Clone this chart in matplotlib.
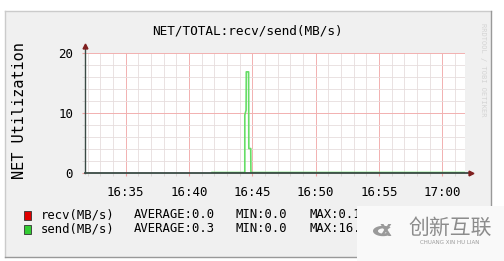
import numpy as np
import pandas as pd
import matplotlib
matplotlib.use('Agg')
import matplotlib.pyplot as plt
import matplotlib.dates as mdates
from matplotlib.patches import Rectangle, Wedge

MONO = 'DejaVu Sans Mono'
plt.rcParams.update({'font.family': MONO, 'font.size': 9})

# data (NET/TOTAL, 30 min window)
day = '2000-01-01 '
window = ['16:31:48', '17:01:48']
send_times = ['16:41:50', '16:44:25', '16:44:25', '16:44:31', '16:44:32',
              '16:44:43', '16:44:44', '16:44:53', '16:44:54', '17:01:48']
send_vals = [0, 0, 9.6, 10.4, 16.8, 16.8, 4.0, 4.0, 0, 0]
recv_times = ['16:41:50', '17:01:48']
recv_vals = [0, 0]
legend_rows = [('recv(MB/s)', '0.0', '0.0', '0.1'),
               ('send(MB/s)', '0.3', '0.0', '16.8')]
yticks = [0, 10, 20]
yminor = [2, 4, 6, 8, 12, 14, 16, 18]

RED, GREEN = '#e00000', '#66dd66'
AXIS, ARROW = '#3a4a44', '#7F1F1F'


def t(s):
    return pd.Timestamp(day + s)


W, H = 504, 261
fig = plt.figure(figsize=(W / 100, H / 100), dpi=100, facecolor='white')

# rrdtool style frame
fig.patches.append(Rectangle((5 / W, 1 - 257 / H), 486 / W, 246 / H, transform=fig.transFigure,
                             facecolor='#f0f0f0', edgecolor='none', zorder=-5))
fig.add_artist(plt.Line2D([5 / W, 5 / W], [1 - 257 / H, 1 - 11 / H], color='#cbcbcb', lw=1, zorder=-4))
fig.add_artist(plt.Line2D([5 / W, 491 / W], [1 - 11 / H, 1 - 11 / H], color='#cbcbcb', lw=1, zorder=-4))
fig.add_artist(plt.Line2D([491 / W, 491 / W], [1 - 257 / H, 1 - 11 / H], color='#999999', lw=1, zorder=-4))
fig.add_artist(plt.Line2D([5 / W, 491 / W], [1 - 257 / H, 1 - 257 / H], color='#999999', lw=1, zorder=-4))

ax = fig.add_axes([85 / W, 1 - 172.5 / H, 380 / W, 119.8 / H])
ax.set_zorder(1)
ax.set_facecolor('white')

st = [t(s) for s in send_times]
rt = [t(s) for s in recv_times]
ax.plot(rt, recv_vals, color=RED, lw=1.0, zorder=3)
ax.plot(st, send_vals, color=GREEN, lw=1.2, zorder=4)

ax.set_xlim(t(window[0]), t(window[1]))
ax.set_ylim(0, 20)
ax.set_yticks(yticks)
ax.set_yticks(yminor, minor=True)
ax.xaxis.set_major_locator(mdates.MinuteLocator(byminute=range(0, 60, 5)))
ax.xaxis.set_minor_locator(mdates.MinuteLocator(byminute=[m for m in range(60) if m % 5]))
ax.xaxis.set_major_formatter(mdates.DateFormatter('%H:%M'))

ax.grid(which='minor', color='#e6dddd', lw=0.6)
ax.grid(which='major', color='#f2b0b0', lw=0.7)
ax.set_axisbelow(True)
for sp in ax.spines.values():
    sp.set_visible(False)
ax.tick_params(which='major', length=2.5, color='#f0a0a0', pad=7, labelsize=9)
ax.tick_params(which='minor', length=2, color='#d8d0d0')
ax.tick_params(axis='y', pad=6)

# axes with arrows
ax.plot([0, 1.013], [0, 0], transform=ax.transAxes, color=AXIS, lw=1.3, clip_on=False, zorder=6)
ax.plot([0, 0], [0, 1.05], transform=ax.transAxes, color=AXIS, lw=1, clip_on=False, zorder=6)
ax.plot([1.015], [0], '>', transform=ax.transAxes, color=ARROW, ms=3.5, clip_on=False, zorder=7)
ax.plot([0], [1.055], '^', transform=ax.transAxes, color=ARROW, ms=3.5, clip_on=False, zorder=7)

fig.text(247.5 / W, 1 - 31.5 / H, 'NET/TOTAL:recv/send(MB/s)', ha='center', va='center', fontsize=9.2)
fig.text(20 / W, 1 - 111 / H, 'NET Utilization', rotation=90, ha='center', va='center', fontsize=11)
fig.text(483 / W, 1 - 70 / H, 'RRDTOOL / TOBI OETIKER', rotation=270, ha='center', va='center',
         fontsize=5, color='#d4d4d4')

# legend
for i, (name, avg, mn, mx) in enumerate(legend_rows):
    yc = 215 + i * 14
    fig.patches.append(Rectangle((24 / W, 1 - (yc + 4.5) / H), 7 / W, 9 / H, transform=fig.transFigure,
                                 facecolor=[RED, '#33cc33'][i], edgecolor='#333333', lw=0.6))
    y = 1 - yc / H
    fig.text(40.5 / W, y, name, va='center', fontsize=8.8)
    fig.text(134 / W, y, 'AVERAGE:' + avg, va='center', fontsize=8.8)
    fig.text(236 / W, y, 'MIN:' + mn, va='center', fontsize=8.8)
    fig.text(309 / W, y, 'MAX:' + mx, va='center', fontsize=8.8)

# watermark patch in the lower right corner
fig.patches.append(Rectangle((357 / W, 0), 147 / W, 55 / H, transform=fig.transFigure,
                             facecolor='#f9f9f9', edgecolor='none', zorder=10))
fig.patches.append(Wedge((383 / W, 1 - 231 / H), 10 / W, 40, 320, width=5 / W,
                         transform=fig.transFigure, facecolor='#9a9a9a', edgecolor='none', zorder=11))
fig.text(386 / W, 1 - 231 / H, 'X', ha='center', va='center', fontsize=11, fontweight='bold',
         color='#9a9a9a', family='DejaVu Sans', zorder=12)
fig.text(450 / W, 1 - 228 / H, '创新互联', ha='center', va='center', fontsize=15, color='#8c8c8c',
         family=['Noto Sans CJK SC', 'DejaVu Sans'], zorder=12)
fig.text(450 / W, 1 - 243 / H, 'CHUANG XIN HU LIAN', ha='center', va='center', fontsize=4,
         color='#9a9a9a', family='DejaVu Sans', zorder=12)

fig.savefig('out.png', dpi=100)
